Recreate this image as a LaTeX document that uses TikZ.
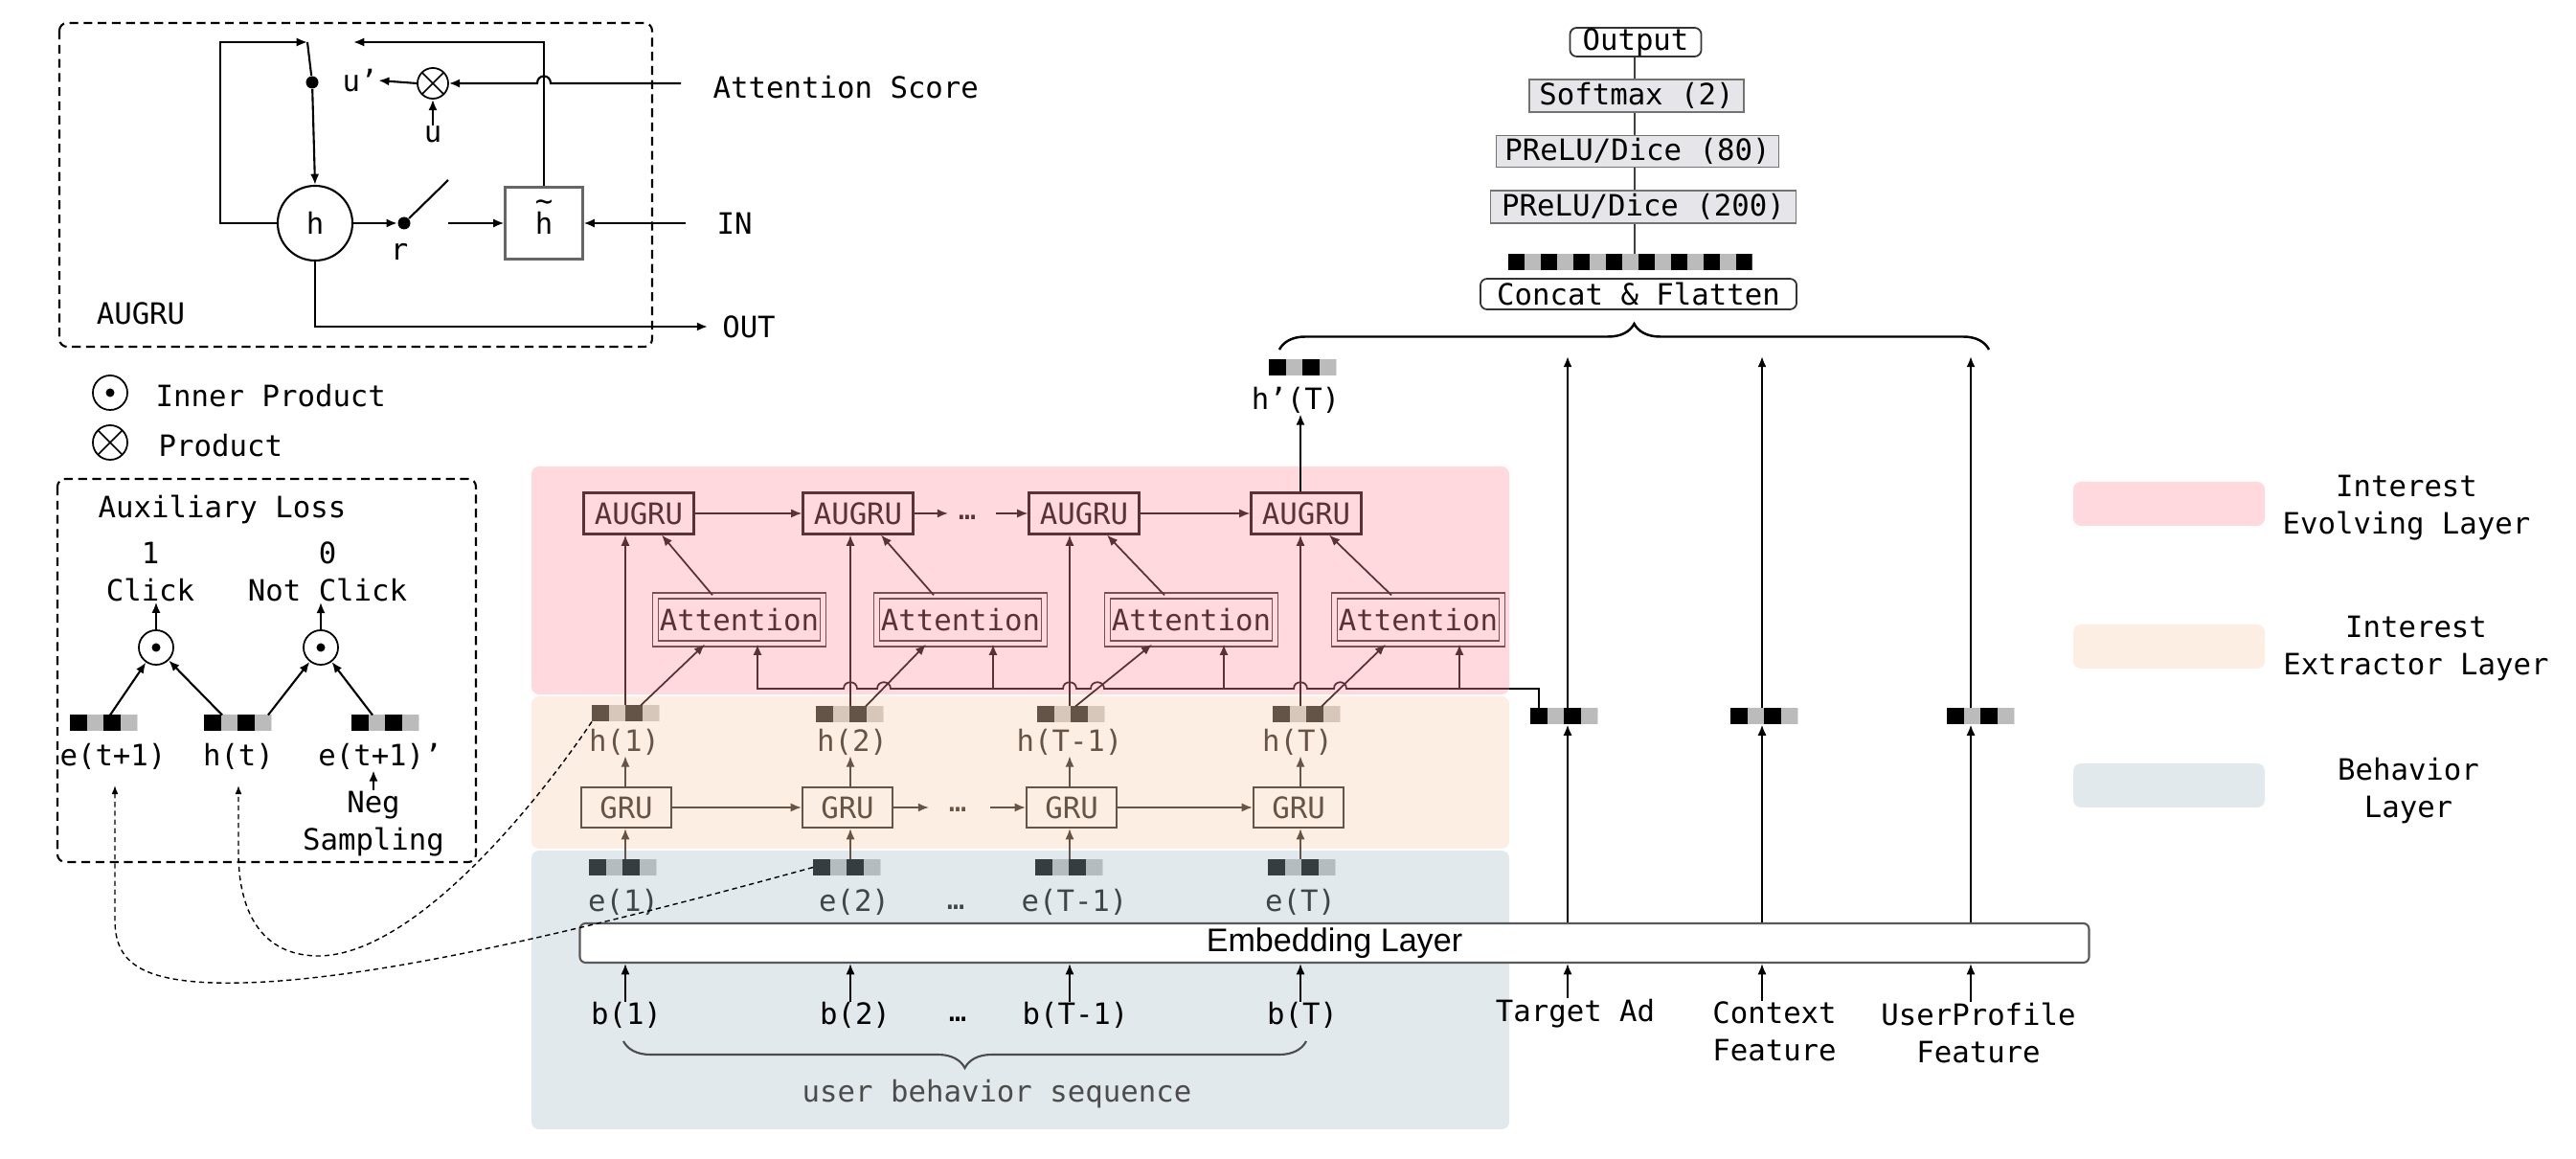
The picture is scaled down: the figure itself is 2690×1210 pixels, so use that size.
\documentclass[tikz,border=0pt]{standalone}
\usepackage{fontspec}
\setmainfont{DejaVu Sans Mono}
\newfontfamily\embfont{Liberation Sans}
\usetikzlibrary{arrows.meta,calc,decorations.pathreplacing}
\definecolor{pinkbg}{HTML}{FFD9DE}
\definecolor{peachbg}{HTML}{FDEEE3}
\definecolor{bluebg}{HTML}{E1E9EC}
\definecolor{evoc}{HTML}{5A3236}
\definecolor{extc}{HTML}{665446}
\definecolor{behc}{HTML}{3C464B}
\definecolor{hdark}{HTML}{645447}
\definecolor{hlight}{HTML}{D7C7BA}
\definecolor{edark}{HTML}{363D40}
\definecolor{elight}{HTML}{B4BCBF}
\definecolor{vgray}{HTML}{BBBBBB}
\definecolor{boxgray}{HTML}{E6E6EA}
\tikzset{
  vecbox/.style n args={4}{rectangle, inner sep=0pt, outer sep=0pt, minimum height=0.17cm,
    minimum width={#3*#4*0.01cm}, fill=#2,
    path picture={\foreach \k in {0,2,...,#3}{\fill[#1] ($(path picture bounding box.north west)+(\k*#4,0)$) rectangle ++(#4,17);}}},
  otimesc/.style={circle, draw, line width=0.5pt, minimum size=#1,
    path picture={\draw[line width=0.45pt] (path picture bounding box.north west) -- (path picture bounding box.south east)
      (path picture bounding box.north east) -- (path picture bounding box.south west);}},
  odotc/.style={circle, draw, line width=0.5pt, minimum size=#1,
    path picture={\fill (path picture bounding box.center) circle[radius=4.5];}},
}
\begin{document}
\begin{tikzpicture}[x=0.01cm, y=-0.01cm,
  every node/.style={font=\fontsize{8.73}{11.1}\selectfont, inner sep=0pt},
  arr/.style={-{Latex[length=3.2pt,width=2.6pt]}},
  ln/.style={line width=0.6pt},
  nl/.style={line width=0.5pt},
  evoln/.style={line width=0.5pt, draw=evoc},
  extln/.style={line width=0.5pt, draw=extc},
  dashbox/.style={draw, line width=0.6pt, dash pattern=on 2.6pt off 1.6pt, rounded corners=0.08cm},
  dcurve/.style={line width=0.4pt, dash pattern=on 1.5pt off 1.1pt, -{Latex[length=2.6pt,width=2pt]}},
  dotc/.style={circle, fill, minimum size=0.13cm},
  augru/.style={draw=evoc, text=evoc, line width=0.6pt, minimum width=1.15cm, minimum height=0.43cm},
  attbox/.style={draw=evoc!85, double=pinkbg, double distance=1.4pt, line width=0.4pt, text=evoc, minimum width=1.75cm, minimum height=0.50cm},
  gru/.style={draw=extc, text=extc, line width=0.6pt, minimum width=0.94cm, minimum height=0.42cm},
  graybox/.style={draw=black!55, fill=boxgray, line width=0.5pt},
  whitebox/.style={draw=black!80, fill=white, line width=0.5pt, rounded corners=0.07cm},
]
\useasboundingbox (0,0) rectangle (2690,1210);
\fill[white] (0,0) rectangle (2690,1210);

% ---------- layer backgrounds ----------
\fill[pinkbg, rounded corners=0.08cm] (555,487) rectangle (1576,725);
\fill[peachbg, rounded corners=0.08cm] (555,727) rectangle (1576,886);
\fill[bluebg, rounded corners=0.08cm] (555,888) rectangle (1576,1179);

% ---------- AUGRU cell ----------
\draw[dashbox] (62,24) rectangle (681,362);
\node[circle, draw, line width=0.6pt, minimum size=0.78cm] (hc) at (329,233) {h};
\node[draw=black!60, line width=0.6pt, minimum width=0.81cm, minimum height=0.75cm] (ht) at (568,233)
  {h\llap{\smash{\raisebox{0.78em}{\textasciitilde}}}};
\node[dotc] (d1) at (326,86) {};
\node[dotc] (d2) at (422,233) {};
\node[otimesc=0.32cm] (ox) at (452,87) {};
\node (up) at (376,84) {u’};
\node (u) at (452,140) {u};
\node (r) at (417,263) {r};
\node (augl) at (147,327) {AUGRU};
\node[anchor=west] (attsc) at (744,91) {Attention Score};
\node (in) at (767,233) {IN};
\node (out) at (782,341) {OUT};
\coordinate (lt) at (321,44);
\coordinate (rt) at (369,44);
\coordinate (asc) at (711,87);
\coordinate (sw2) at (468,188);
\coordinate (sw3) at (468,233);
\coordinate (inS) at (716,233);
\coordinate (outS) at (739,341);
\draw[ln,arr] (hc.west) -| (230,44) -- (lt);
\draw[ln] (lt) -- (d1);
\draw[ln,arr] (d1) -- (hc.north);
\draw[ln,arr] (ht.north) |- (rt);
\draw[ln,arr] (asc) -- (575,87) .. controls (575,77) and (561,77) .. (561,87) -- (ox.east);
\draw[ln,arr] (ox.west) -- (up.east);
\draw[ln,arr] (u.north) -- (ox.south);
\draw[ln,arr] (hc.east) -- (d2.west);
\draw[ln] (d2) -- (sw2);
\draw[ln,arr] (sw3) -- (ht.west);
\draw[ln,arr] (inS) -- (ht.east);
\draw[ln,arr] (hc.south) |- (outS);

% ---------- legend (products) ----------
\node[odotc=0.36cm] (lip) at (115,410) {};
\node[anchor=west] (lipt) at (162,413) {Inner Product};
\node[otimesc=0.36cm] (lot) at (115,462) {};
\node[anchor=west] (lott) at (165,465) {Product};

% ---------- auxiliary loss ----------
\draw[dashbox] (60,500) rectangle (497,900);
\node (auxt) at (232,532) {Auxiliary Loss};
\node[align=center] (lab1) at (157,597) {1\\Click};
\node[align=center] (lab0) at (342,597) {0\\Not Click};
\node[odotc=0.36cm] (ip1) at (163,676) {};
\node[odotc=0.36cm] (ip2) at (335,676) {};
\node[vecbox={black}{vgray}{4}{17.5}] (ev1) at (108,755) {};
\node[vecbox={black}{vgray}{4}{17.5}] (hvt) at (248,755) {};
\node[vecbox={black}{vgray}{4}{17.5}] (ev2) at (402,755) {};
\node (ev1l) at (118,790) {e(t+1)};
\node (hvtl) at (249,790) {h(t)};
\node (ev2l) at (397,790) {e(t+1)’};
\node[align=center] (neg) at (390,860) {Neg\\Sampling};
\draw[ln,arr] (ip1.north) -- (ip1.north |- lab1.south);
\draw[ln,arr] (ip2.north) -- (ip2.north |- lab0.south);
\draw[ln,arr] ($(ev1.north west)+(42,0)$) -- (ip1);
\draw[ln,arr] ($(hvt.north west)+(19,0)$) -- (ip1);
\draw[ln,arr] ($(hvt.north west)+(67,0)$) -- (ip2);
\draw[ln,arr] ($(ev2.north west)+(22,0)$) -- (ip2);
\draw[ln,arr] (neg.north) -- (neg.north |- ev2l.south);

% ---------- main network nodes ----------
\coordinate (c1) at (653,0);
\coordinate (c2) at (888,0);
\coordinate (c3) at (1117,0);
\coordinate (c4) at (1358,0);

\node[augru] (a1) at (667,536) {AUGRU};
\node[augru] (a2) at (896,536) {AUGRU};
\node[augru] (a3) at (1132,536) {AUGRU};
\node[augru] (a4) at (1364,536) {AUGRU};
\node[attbox] (t1) at (772,647) {Attention};
\node[attbox] (t2) at (1003,647) {Attention};
\node[attbox] (t3) at (1244,647) {Attention};
\node[attbox] (t4) at (1481,647) {Attention};

\node[vecbox={hdark}{hlight}{4}{17.5}] (h1v) at (653,745) {};
\node[vecbox={hdark}{hlight}{4}{17.5}] (h2v) at (887,746) {};
\node[vecbox={hdark}{hlight}{4}{17.5}] (h3v) at (1118,746) {};
\node[vecbox={hdark}{hlight}{4}{17.5}] (h4v) at (1364,746) {};
\node[text=extc] (h1l) at (652,775) {h(1)};
\node[text=extc] (h2l) at (890,775) {h(2)};
\node[text=extc] (h3l) at (1117,775) {h(T-1)};
\node[text=extc] (h4l) at (1355,775) {h(T)};
\node[gru] (g1) at (654,843) {GRU};
\node[gru] (g2) at (885,843) {GRU};
\node[gru] (g3) at (1119,843) {GRU};
\node[gru] (g4) at (1356,843) {GRU};
\node[vecbox={edark}{elight}{4}{17.5}] (e1v) at (650,905.5) {};
\node[vecbox={edark}{elight}{4}{17.5}] (e2v) at (884,905.5) {};
\node[vecbox={edark}{elight}{4}{17.5}] (e3v) at (1116,905.5) {};
\node[vecbox={edark}{elight}{4}{17.5}] (e4v) at (1359,905.5) {};
\node[text=behc] (e1l) at (651,942) {e(1)};
\node[text=behc] (e2l) at (892,942) {e(2)};
\node[text=behc] (edots) at (998,947) {…};
\node[text=behc] (e3l) at (1122,942) {e(T-1)};
\node[text=behc] (e4l) at (1358,942) {e(T)};

\node[draw=black!65, fill=white, rounded corners=0.06cm, line width=0.6pt, minimum width=15.75cm, minimum height=0.41cm,
  font=\embfont\fontsize{9.7}{11}\selectfont] (emb) at (1393.5,984.5) {Embedding Layer};

\node (b1) at (654,1060) {b(1)};
\node (b2) at (893,1060) {b(2)};
\node (bdots) at (1000,1064) {…};
\node (b3) at (1123,1060) {b(T-1)};
\node (b4) at (1360,1060) {b(T)};
\coordinate (ubL) at (651,1087);
\coordinate (ubR) at (1364,1087);
\draw[decorate, decoration={brace, amplitude=0.28cm, mirror}, line width=0.6pt, black!70] (ubL) -- (ubR);
\node[text=black!70] (ubs) at (1041,1142) {user behavior sequence};

% ---------- main network connectors ----------
\foreach \c/\n in {c1/1,c2/2,c3/3,c4/4}{
  \draw[nl,arr] (\c |- b\n.north) -- (\c |- emb.south);
  \draw[extln,arr] (\c |- e\n v.north) -- (\c |- g\n.south);
  \draw[extln,arr] (\c |- g\n.north) -- (\c |- h\n l.south);
  \draw[evoln,arr] (\c |- h\n v.north) -- (\c |- a\n.south);
  \draw[evoln,arr] ($(t\n.north)+(-28,0)$) -- ($(a\n.south)+(24,0)$);
}
\draw[evoln,arr] ($(h1v.north)+(16,0)$) -- ($(t1.south)+(-36,0)$);
\draw[evoln,arr] ($(h2v.north)+(17,0)$) -- ($(t2.south)+(-36,0)$);
\draw[evoln,arr] ($(h3v.north)+(5,0)$) -- ($(t3.south)+(-41,0)$);
\draw[evoln,arr] ($(h4v.north)+(16,0)$) -- ($(t4.south)+(-34,0)$);

% AUGRU chain
\coordinate (adl) at (990,536);
\coordinate (adr) at (1040,536);
\node[text=evoc] (adots) at (1010,540) {…};
\draw[evoln,arr] (a1) -- (a2);
\draw[evoln,arr] (a2.east) -- (adl);
\draw[evoln,arr] (adr) -- (a3.west);
\draw[evoln,arr] (a3) -- (a4);
% GRU chain
\coordinate (gdl) at (970,843);
\coordinate (gdr) at (1034,843);
\node[text=extc] (gdots) at (1000,845) {…};
\draw[extln,arr] (g1) -- (g2);
\draw[extln,arr] (g2.east) -- (gdl);
\draw[extln,arr] (gdr) -- (g3.west);
\draw[extln,arr] (g3) -- (g4);

% attention bus
\coordinate (busT) at (1607,719);
\coordinate (busR) at (1576,719);
\coordinate (busA) at (791,719);
\coordinate (busB) at (1037,719);
\coordinate (busC) at (1278,719);
\coordinate (busD) at (1524,719);
\draw[evoln,arr] (busR) -- (1406,719) .. controls (1406,710) and (1393,710) .. (1393,719)
  -- (1365,719) .. controls (1365,710) and (1351,710) .. (1351,719)
  -- (1153,719) .. controls (1153,710) and (1139,710) .. (1139,719)
  -- (1124,719) .. controls (1124,710) and (1110,710) .. (1110,719)
  -- (930,719) .. controls (930,710) and (916,710) .. (916,719)
  -- (895,719) .. controls (895,710) and (881,710) .. (881,719)
  -- (busA) -- (busA |- t1.south);
\draw[evoln,arr] (busB) -- (busB |- t2.south);
\draw[evoln,arr] (busC) -- (busC |- t3.south);
\draw[evoln,arr] (busD) -- (busD |- t4.south);

% ---------- other features ----------
\coordinate (cT) at (1637,0);
\coordinate (cC) at (1840,0);
\coordinate (cU) at (2058,0);
\coordinate (brY) at (0,372);
\node (tgt) at (1645,1058) {Target Ad};
\node[align=center] (ctx) at (1853,1077) {Context\\Feature};
\node[align=center] (upf) at (2066,1078) {UserProfile\\Feature};
\node[vecbox={black}{vgray}{4}{17.5}] (tv) at (1633,748) {};
\node[vecbox={black}{vgray}{4}{17.5}] (cv) at (1842,748) {};
\node[vecbox={black}{vgray}{4}{17.5}] (uv) at (2068,748) {};
\draw[nl,arr] (cT |- tgt.north) -- (cT |- emb.south);
\draw[nl,arr] (cC |- ctx.north) -- (cC |- emb.south);
\draw[nl,arr] (cU |- upf.north) -- (cU |- emb.south);
\draw[ln,arr] (cT |- emb.north) -- (cT |- tv.south);
\draw[ln,arr] (cC |- emb.north) -- (cC |- cv.south);
\draw[ln,arr] (cU |- emb.north) -- (cU |- uv.south);
\draw[ln,arr] (cT |- tv.north) -- (cT |- brY);
\draw[ln,arr] (cC |- cv.north) -- (cC |- brY);
\draw[ln,arr] (cU |- uv.north) -- (cU |- brY);
\draw[ln] (busT |- tv.north) -- (busT) -- (busR);

% h'(T)
\node[vecbox={black}{vgray}{4}{17.5}] (hpv) at (1360,383.5) {};
\node (hpl) at (1353,418) {h’(T)};
\draw[ln,arr] (c4 |- a4.north) -- (c4 |- hpl.south);

% ---------- top stack ----------
\coordinate (sx) at (1707,0);
\node[whitebox, minimum width=1.37cm, minimum height=0.30cm] (outp) at (1708,44) {Output};
\node[graybox, minimum width=2.24cm, minimum height=0.34cm] (smx) at (1709,100) {Softmax (2)};
\node[graybox, minimum width=2.95cm, minimum height=0.33cm] (p80) at (1710,158) {PReLU/Dice (80)};
\node[graybox, minimum width=3.19cm, minimum height=0.34cm] (p200) at (1716,216) {PReLU/Dice (200)};
\node[vecbox={black}{vgray}{15}{17}] (bigv) at (1702,274) {};
\node[whitebox, minimum width=3.30cm, minimum height=0.32cm] (cf) at (1711,307) {Concat \& Flatten};
\draw[line width=0.4pt, black!75] (sx |- outp.south) -- (sx |- smx.north);
\draw[line width=0.4pt, black!75] (sx |- smx.south) -- (sx |- p80.north);
\draw[line width=0.4pt, black!75] (sx |- p80.south) -- (sx |- p200.north);
\draw[line width=0.4pt, black!75] (sx |- p200.south) -- (sx |- bigv.north);
\coordinate (brL) at (1336,365);
\coordinate (brR) at (2077,365);
\draw[decorate, decoration={brace, amplitude=0.27cm}, line width=0.7pt] (brL) -- (brR);

% ---------- layer legend ----------
\fill[pinkbg, rounded corners=0.08cm] (2165,503) rectangle (2365,549);
\fill[peachbg, rounded corners=0.08cm] (2165,652) rectangle (2365,698);
\fill[bluebg, rounded corners=0.08cm] (2165,797) rectangle (2365,843);
\node[align=center] (lg1) at (2513,530) {Interest\\Evolving Layer};
\node[align=center] (lg2) at (2523,677) {Interest\\Extractor Layer};
\node[align=center] (lg3) at (2515,826) {Behavior\\Layer};

% ---------- dashed links to auxiliary loss ----------
\coordinate (dA) at (120,820);
\coordinate (dB) at (249,820);
\draw[dcurve] (e2v.west) .. controls (560,985) and (350,1030) .. (222,1026)
  .. controls (140,1023) and (120,1000) .. (120,960) -- (dA);
\draw[dcurve] (h1v.south west) .. controls (560,840) and (430,1000) .. (330,998)
  .. controls (265,996) and (249,940) .. (249,890) -- (dB);
\end{tikzpicture}
\end{document}
